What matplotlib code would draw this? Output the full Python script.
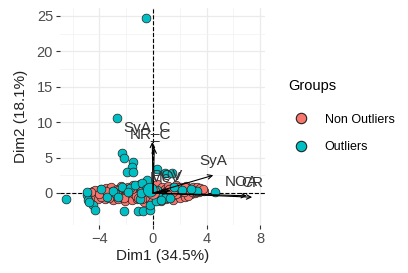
import matplotlib
matplotlib.use("Agg")
import matplotlib.pyplot as plt
from matplotlib.lines import Line2D

plt.rcParams['font.family'] = ['Liberation Sans', 'DejaVu Sans']

# ---------------- data ----------------
red_x = [-4.7, -4.5, -4.4, -4.2, -4.1, -3.9, -3.8, -3.7, -3.6, -3.5,
         -3.4, -3.3, -3.2, -3.1, -3.0, -2.9, -2.8, -2.7, -2.6, -2.5,
         -2.4, -2.3, -2.2, -2.1, -2.0, -1.9, -1.8, -1.7, -1.6, -1.5,
         -1.4, -1.3, -1.2, -1.1, -1.0, -0.9, -0.8, -0.7, -0.6, -0.5,
         -0.4, -0.3, -0.2, -0.1, 0.0, 0.1, 0.2, 0.3, 0.4, 0.5,
         0.6, 0.7, 0.8, 0.9, 1.0, 1.1, 1.2, 1.3, 1.4, 1.5,
         1.6, 1.7, 1.8, 1.9, 2.0, 2.1, 2.2, 2.3, 2.4, 2.5,
         2.6, 2.7, 2.8, 2.9, 3.0, 3.1, 3.2, 3.3, 3.4, 3.6,
         3.8, -3.9, -2.6, -1.3, 0.2, 1.0, 1.9, 2.6, -0.6, 0.6,
         -4.3, -3.6, -3.0, -2.4, -1.9, -1.1, -0.3, 0.4, 1.2, 1.7,
         2.3, 2.9, 3.5, -4.0, -3.3, -2.7, -2.0, -1.4, -0.8, 0.0,
         0.8, 1.5, 2.1, 2.7, 3.2, -4.6, -3.5, -2.2, -1.6, -0.9,
         0.3, 1.1, 1.8, 2.4, 3.0, 3.7]
red_y = [-0.2, 0.3, -0.6, 0.1, -0.9, 0.5, -0.3, 0.2, -0.8, 0.7,
         -0.1, 0.4, -0.5, 0.9, -1.0, 0.2, -0.4, 0.6, -0.9, 0.1,
         1.0, -0.3, 0.5, -1.2, 0.0, 0.8, -0.6, 0.3, -1.0, 1.1,
         -0.2, 0.6, -0.8, 0.2, 1.2, -0.4, 0.7, -1.3, 0.1, 1.0,
         -0.7, 0.4, -1.1, 0.9, -0.2, 0.6, -0.9, 1.3, -0.4, 0.3,
         -1.2, 0.8, -0.1, 0.5, -0.8, 1.0, 0.1, -0.5, 0.7, -1.0,
         0.3, 1.1, -0.3, 0.6, -0.7, 0.9, 0.0, 0.5, -0.5, 1.0,
         0.2, 0.7, -0.2, 0.4, 0.9, 0.0, 0.5, 0.8, 0.2, 0.5,
         0.3, -0.5, 0.4, -0.4, 0.2, 0.3, 0.1, -0.4, -0.5, 0.0,
         0.4, 0.0, 0.3, -0.6, 0.1, -0.7, 0.2, -1.0, 0.6, -0.1,
         0.2, 0.1, 0.7, -0.2, -0.7, -0.2, 0.6, 0.9, -0.9, 0.4,
         -0.4, 0.1, 0.5, 0.4, 0.2, 0.2, 0.3, -0.7, 0.6, 0.3,
         -0.3, -0.3, 0.8, 0.8, 0.4, 0.6]

teal_x = [-0.5, -2.7, -2.34, -2.2, -1.47, -1.59, -1.96, -1.47, -0.47, 0.3,
          -6.5, -4.95, -4.83, -4.45, -4.3, -2.2, -1.1, -0.72, -0.22, -0.22,
          -3.46, -2.84, -2.34, -1.72, -1.34, -0.84, 0.28, 0.52, 0.9, 1.27,
          4.6, 0.9, 1.4, -4.8, -3.0, -3.9, -1.0, -0.5, 0.2, 1.6,
          2.2, -2.6, -1.9, -0.9, 0.6, -4.9, 3.3, 2.8]
teal_y = [24.7, 10.6, 5.6, 5.0, 4.3, 3.7, 3.0, 2.9, 1.9, 3.4,
          -0.8, -0.3, -1.0, -1.7, -2.4, -2.5, -2.6, -2.6, -2.4, -1.7,
          -0.5, 0.0, 0.9, 0.66, 1.1, 1.4, 0.4, -0.5, -0.7, -0.7,
          0.2, 2.8, 2.8, -1.3, 0.3, 0.5, -0.9, 0.6, -1.2, 0.9,
          0.4, -0.6, 0.2, 0.0, -1.0, 0.1, 0.3, 0.6]

mean_x = [0.0, -0.2]
mean_y = [0.1, 0.4]

var_names = ["SyA_C", "NR_C", "SyA", "NOA", "CR", "PCV", "MeV"]
var_x = [-0.05, 0.1, 4.5, 7.0, 7.4, 1.3, 1.1]
var_y = [7.2, 6.4, 2.5, -0.4, -0.6, 0.4, 0.2]

groups = ["Non Outliers", "Outliers"]
colors = ["#F8766D", "#00BFC4"]

# ---------------- figure ----------------
fig = plt.figure(figsize=(4.08, 2.73), dpi=100)
ax = fig.add_axes([60/408, 1-225/273, 205/408, 217/273])

ax.set_xlim(-6.94, 8.36)
ax.set_ylim(-4.52, 26.1)
ax.set_xticks([-4, 0, 4, 8])
ax.set_yticks([0, 5, 10, 15, 20, 25])
ax.set_xticks([-6, -2, 2, 6], minor=True)
ax.set_yticks([2.5, 7.5, 12.5, 17.5, 22.5], minor=True)
ax.grid(True, which='major', color='#EBEBEB', lw=0.9)
ax.grid(True, which='minor', color='#F2F2F2', lw=0.5)
ax.set_axisbelow(True)
for s in ax.spines.values():
    s.set_visible(False)
ax.tick_params(which='major', length=3, color='#333333', labelsize=10.5,
               labelcolor='#4D4D4D', pad=2)
ax.tick_params(which='minor', length=0)

ax.axhline(0, color='black', ls='--', lw=0.8, zorder=1)
ax.axvline(0, color='black', ls='--', lw=0.8, zorder=1)

ax.scatter(red_x, red_y, s=38, c=colors[0], edgecolors='#222222',
           linewidths=0.5, zorder=2)
ax.scatter(teal_x, teal_y, s=40, c=colors[1], edgecolors='#222222',
           linewidths=0.5, zorder=3)
ax.scatter(mean_x, mean_y, s=100, c=colors, edgecolors='#222222',
           linewidths=0.5, zorder=4)

label_dx = [-4, -3, 0, -4, 0, -2, -2]
for name, vx, vy, dx in zip(var_names, var_x, var_y, label_dx):
    ax.annotate("", xy=(vx, vy), xytext=(0, 0),
                arrowprops=dict(arrowstyle='->', color='black', lw=0.8,
                                shrinkA=0, shrinkB=0, mutation_scale=8),
                zorder=5)
    ax.annotate(name, xy=(vx, vy), xytext=(dx, 10),
                textcoords='offset points', ha='center', va='center',
                fontsize=11, color='#333333', zorder=6)

ax.set_xlabel("Dim1 (34.5%)", fontsize=11, color='#222222', labelpad=2)
ax.set_ylabel("Dim2 (18.1%)", fontsize=11, color='#222222', labelpad=6)

handles = [Line2D([], [], marker='o', ls='', markersize=7.5,
                  markerfacecolor=c, markeredgecolor='#222222',
                  markeredgewidth=0.8) for c in colors]
leg = fig.legend(handles, groups, title="Groups", loc='upper left',
                 bbox_to_anchor=(0.695, 0.73), frameon=False,
                 fontsize=9, title_fontsize=10.5, handletextpad=0.9,
                 labelspacing=1.25, borderaxespad=0)
leg._legend_box.align = "left"
leg._legend_box.sep = 15

fig.savefig("out.png", dpi=100)
